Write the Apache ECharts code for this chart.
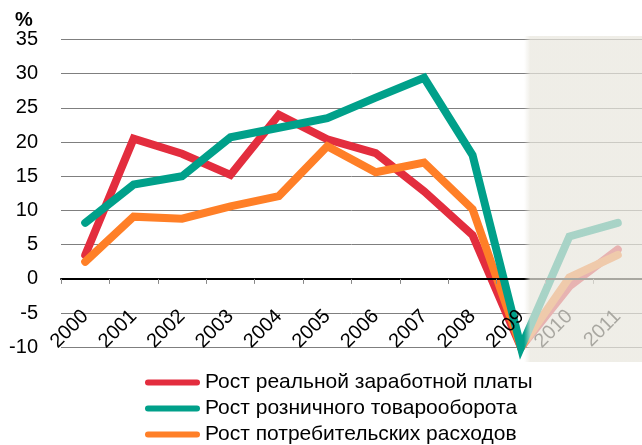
<!DOCTYPE html>
<html><head><meta charset="utf-8">
<script src="https://cdn.jsdelivr.net/npm/echarts@6/dist/echarts.min.js"></script>
<style>html,body{margin:0;padding:0;background:#fff}#c{width:642px;height:445px}</style>
</head><body><div id="c"></div>
<script>
const years = ['2000','2001','2002','2003','2004','2005','2006','2007','2008','2009','2010','2011'];
const wageName = 'Рост реальной заработной платы';
const retailName = 'Рост розничного товарооборота';
const consName = 'Рост потребительских расходов';
const wages = [3.5, 20.5, 18.3, 15.2, 24.0, 20.4, 18.4, 12.8, 6.4, -10, -1.1, 4.3];
const retail = [8.2, 13.8, 15.0, 20.7, 22.1, 23.5, 26.5, 29.4, 18.1, -10, 6.2, 8.2];
const consumption = [2.5, 9.1, 8.8, 10.6, 12.1, 19.4, 15.6, 17.0, 10.2, -10, 0.2, 3.5];
const yMin = -10, yMax = 35, yStep = 5;

const chart = echarts.init(document.getElementById('c'), null, {renderer: 'canvas'});
const font = 'Liberation Sans, Arial, sans-serif';
function line(name, data, color) {
  return {
    name, type: 'line', data, symbol: 'none', clip: false,
    lineStyle: {color, width: 8, cap: 'round', join: 'miter'},
    itemStyle: {color}
  };
}
chart.setOption({
  animation: false,
  textStyle: {fontFamily: font},
  grid: {left: 61, top: 39.5, height: 307.8, width: 596},
  xAxis: {
    type: 'category', data: years, boundaryGap: true, z: 5,
    axisLine: {onZero: true, lineStyle: {color: '#000', width: 2}},
    axisTick: {show: true, length: 5, lineStyle: {color: '#888'}},
    axisLabel: {rotate: 45, fontSize: 20, color: '#000', margin: -34, fontFamily: font, interval: 0},
    splitLine: {show: false}
  },
  yAxis: {
    type: 'value', min: yMin, max: yMax, interval: yStep,
    axisLine: {show: false}, axisTick: {show: false},
    axisLabel: {fontSize: 20, color: '#000', margin: 23, fontFamily: font},
    splitLine: {lineStyle: {color: '#7f7f7f', width: 1}}
  },
  legend: {
    orient: 'vertical', left: 145, top: 372, padding: 0,
    data: [wageName, retailName, consName],
    itemWidth: 55, itemHeight: 7, itemGap: 5,
    icon: 'path://M3,0 L52,0 A3,3 0 0 1 52,6 L3,6 A3,3 0 0 1 3,0 Z',
    textStyle: {fontSize: 21, color: '#000', fontFamily: font, lineHeight: 21}
  },
  graphic: [
    {type: 'text', left: 15, top: 10, z: 100,
     style: {text: '%', font: 'bold 20px ' + font, fill: '#000'}},
    {type: 'rect', z: 100, shape: {x: 524, y: 36, width: 130, height: 326},
     style: {fill: new echarts.graphic.LinearGradient(0, 0, 1, 0, [
       {offset: 0, color: 'rgba(233,231,222,0)'},
       {offset: 0.05, color: 'rgba(233,231,222,0.72)'},
       {offset: 1, color: 'rgba(233,231,222,0.72)'}
     ])}}
  ],
  series: [
    line(wageName, wages, '#E32D3E'),
    line(consName, consumption, '#FF7F27'),
    line(retailName, retail, '#00A08A')
  ]
});
</script></body></html>
